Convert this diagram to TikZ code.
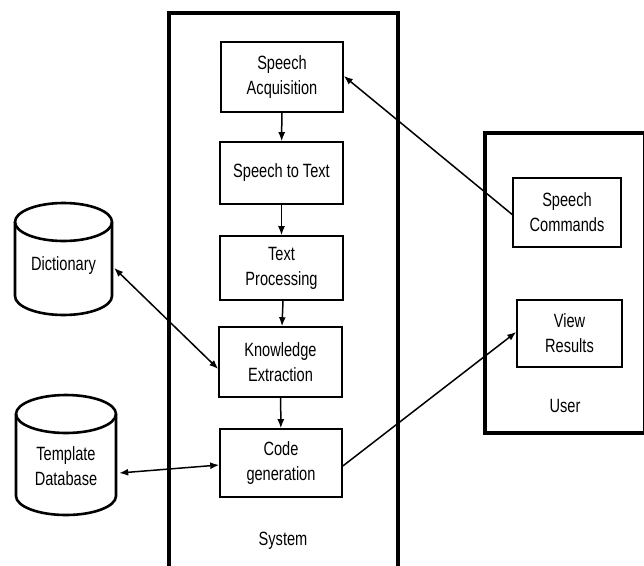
\documentclass[tikz,border=0pt]{standalone}
\usepackage{fontspec}
\setmainfont[FakeStretch=0.76]{Liberation Sans}
\usetikzlibrary{arrows.meta}
\begin{document}
\begin{tikzpicture}[x=1pt,y=-1pt,
  txt/.style={font=\fontsize{19.2}{25}\selectfont, align=center, inner sep=0pt},
  proc/.style={draw, line width=1.6pt, txt},
  frame/.style={draw, line width=3.2pt},
  cyl/.style={draw, line width=2.6pt},
  arr/.style={line width=1.5pt, -{Latex[length=9pt,width=7pt]}},
  barr/.style={line width=1.5pt, {Latex[length=9pt,width=7pt]}-{Latex[length=9pt,width=7pt]}}]
\useasboundingbox (0,0) rectangle (644,565);
\clip (0,0) rectangle (644,565);
% frames
\draw[frame] (169,13) -- (169,600) (398,13) -- (398,600) (167.4,13) -- (399.6,13);
\draw[frame] (680,133) -- (485,133) -- (485,433) -- (680,433);
\draw[line width=1pt] (643,133) -- (643,433);
\node[txt] (syslbl) at (283,541) {System};
\node[txt] (userlbl) at (565,406) {User};
% process boxes
\node[proc, minimum width=122pt, minimum height=70pt] (sa) at (282,77) {Speech\\Acquisition};
\node[proc, minimum width=123pt, minimum height=62pt] (stt) at (281.5,173) {Speech to Text};
\node[proc, minimum width=123pt, minimum height=64pt] (tp) at (281.5,268) {Text\\Processing};
\node[proc, minimum width=123pt, minimum height=70pt] (ke) at (280.5,362) {Knowledge\\Extraction};
\node[proc, minimum width=122pt, minimum height=68pt] (cg) at (281,463) {Code\\generation};
\node[proc, minimum width=108pt, minimum height=69pt] (sc) at (567,212.5) {Speech\\Commands};
\node[proc, minimum width=105pt, minimum height=67pt] (vr) at (569.5,333.5) {View\\Results};
% cylinders
\draw[cyl] (63.5,222) ellipse [x radius=48.5, y radius=19];
\draw[cyl] (15,222) -- (15,296) arc [start angle=180, end angle=0, x radius=48.5, y radius=19] -- (112,222);
\node[txt, minimum width=97pt, minimum height=112pt] (dict) at (63.5,259) {};
\node[txt] (dictlbl) at (63.5,266) {Dictionary};
\draw[cyl] (66,414) ellipse [x radius=50, y radius=19];
\draw[cyl] (16,414) -- (16,496) arc [start angle=180, end angle=0, x radius=50, y radius=19] -- (116,414);
\node[txt, minimum width=100pt, minimum height=120pt] (tdb) at (66,455) {};
\node[txt] (tdblbl) at (66,466) {Template\\Database};
% connectors
\draw[arr] (sa) -- (stt);
\draw[arr] (stt) -- (tp);
\draw[arr] ([xshift=1.5pt]tp.south) -- ([xshift=1.5pt]ke.north);
\draw[arr] (ke) -- (cg);
\draw[arr] ([yshift=-2pt]sc.west) -- ([yshift=1pt]sa.east);
\draw[arr] ([yshift=-3pt]cg.east) -- ([yshift=1.5pt]vr.west);
\draw[barr] ([xshift=2pt,yshift=-9pt]dict.east) -- ([yshift=-7pt]ke.west);
\draw[barr] ([xshift=3pt,yshift=-18pt]tdb.east) -- ([yshift=-2pt]cg.west);
\end{tikzpicture}
\end{document}
